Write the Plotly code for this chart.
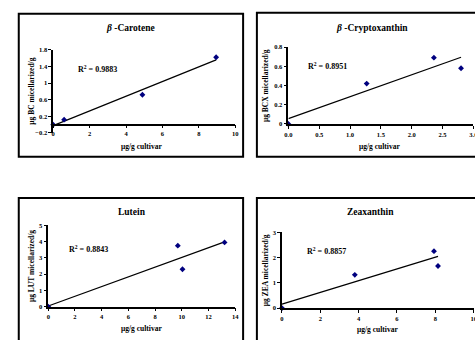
import numpy as np
import plotly.graph_objects as go

# the page shows a 475x340 window; the charts run past its right edge
W, H = 500, 340

# ---- data ----
bc_x = [0.0, 0.6, 4.9, 8.95]
bc_y = [0.0, 0.12, 0.72, 1.62]
bcx_x = [0.0, 1.27, 2.36, 2.8]
bcx_y = [0.0, 0.42, 0.69, 0.58]
lut_x = [0.0, 9.7, 10.05, 13.2]
lut_y = [0.0, 3.75, 2.3, 3.95]
zea_x = [0.0, 3.8, 7.93, 8.14]
zea_y = [0.0, 1.32, 2.26, 1.67]

titles = ["<i>β</i> -Carotene", "<i>β</i> -Cryptoxanthin", "Lutein", "Zeaxanthin"]
ytitles = ["μg BC micellarized/g", "μg BCX micellarized/g",
           "μg LUT micellarized/g", "μg ZEA micellarized/g"]
r2_labels = ["R<sup>2</sup> = 0.9883", "R<sup>2</sup> = 0.8951",
             "R<sup>2</sup> = 0.8843", "R<sup>2</sup> = 0.8857"]
xtitle = "μg/g cultivar"

FONT = "Liberation Serif"
NAVY = "#00007f"

def px(x):
    return x / W

def py(y):
    return 1 - y / H

def bfont(size):
    return dict(family=FONT, size=size, color="black", weight="bold")

panels = [
    dict(xs=bc_x, ys=bc_y, xr=[0, 10], xd=2, xfmt="", yr=[-0.2, 1.8], y0=-0.2, yd=0.4,
         plot=(50, 235, 46.7, 131.7), box=(15, 10, 243, 156),
         r2=(95, 66), title=(129, 24), ytitle=(28, 89), xtitle=(140, 145.5)),
    dict(xs=bcx_x, ys=bcx_y, xr=[0, 3], xd=0.5, xfmt=".1f", yr=[0, 0.8], y0=0, yd=0.2,
         plot=(289, 477, 44, 122.5), box=(257, 9, 491, 156),
         r2=(329, 63), title=(374, 24), ytitle=(266, 83), xtitle=(382, 145)),
    dict(xs=lut_x, ys=lut_y, xr=[0, 14], xd=2, xfmt="", yr=[0, 5], y0=0, yd=1,
         plot=(45, 235, 226, 309), box=(15, 198, 243, 360),
         r2=(86, 250), title=(130, 212), ytitle=(28, 268), xtitle=(140, 331)),
    dict(xs=zea_x, ys=zea_y, xr=[0, 10], xd=2, xfmt="", yr=[0, 3], y0=0, yd=1,
         plot=(282.5, 477.3, 233.3, 310.5), box=(257, 198, 491, 360),
         r2=(328, 252), title=(372, 212), ytitle=(266, 272), xtitle=(380, 332)),
]

fig = go.Figure()
layout = dict(width=W, height=H, margin=dict(l=0, r=0, t=0, b=0),
              paper_bgcolor="white", plot_bgcolor="white", showlegend=False,
              font=dict(family=FONT, color="black"))
shapes = []
annotations = []

for i, p in enumerate(panels):
    n = i + 1
    xa = "x" if n == 1 else f"x{n}"
    ya = "y" if n == 1 else f"y{n}"
    xkey = "xaxis" if n == 1 else f"xaxis{n}"
    ykey = "yaxis" if n == 1 else f"yaxis{n}"
    x0, x1, yt, yb = p["plot"]
    xs = np.array(p["xs"])
    ys = np.array(p["ys"])
    slope, icpt = np.polyfit(xs, ys, 1)
    lx = np.array([0.0, xs.max()])
    fig.add_trace(go.Scatter(x=lx, y=slope * lx + icpt, mode="lines",
                             line=dict(color="black", width=1.2),
                             xaxis=xa, yaxis=ya, hoverinfo="skip"))
    fig.add_trace(go.Scatter(x=xs, y=ys, mode="markers",
                             marker=dict(symbol="diamond", size=4.5, color=NAVY),
                             xaxis=xa, yaxis=ya, cliponaxis=False))
    ydom = [py(yb), py(yt)]
    xaxis = dict(domain=[px(x0), px(x1)], range=p["xr"], anchor=ya, showgrid=False,
                 zeroline=False, showline=True, linecolor="black", linewidth=1.5,
                 ticks="outside", ticklen=3, tickwidth=1, tickcolor="black",
                 dtick=p["xd"], tick0=0, tickformat=p["xfmt"],
                 ticklabeloverflow="allow",
                 tickfont=bfont(6.5), fixedrange=True)
    if p["yr"][0] < 0:
        frac = (0 - p["yr"][0]) / (p["yr"][1] - p["yr"][0])
        xaxis["anchor"] = "free"
        xaxis["position"] = ydom[0] + frac * (ydom[1] - ydom[0])
    layout[xkey] = xaxis
    layout[ykey] = dict(domain=ydom, range=p["yr"], anchor=xa, showgrid=False,
                        zeroline=False, showline=True, linecolor="black", linewidth=1.5,
                        ticks="outside", ticklen=3, tickwidth=1, tickcolor="black",
                        tick0=p["y0"], dtick=p["yd"],
                        tickfont=bfont(6.5), fixedrange=True)
    bx0, by0, bx1, by1 = p["box"]
    shapes.append(dict(type="rect", xref="paper", yref="paper",
                       x0=px(bx0), x1=px(bx1), y0=py(by1), y1=py(by0),
                       line=dict(color="black", width=2), layer="below"))
    annotations.append(dict(text=titles[i], x=px(p["title"][0]), y=py(p["title"][1]),
                            xref="paper", yref="paper", showarrow=False,
                            font=bfont(9.5), xanchor="center", yanchor="middle"))
    annotations.append(dict(text=r2_labels[i], x=px(p["r2"][0]), y=py(p["r2"][1]),
                            xref="paper", yref="paper", showarrow=False,
                            font=bfont(8), xanchor="center", yanchor="middle"))
    annotations.append(dict(text=ytitles[i], x=px(p["ytitle"][0]), y=py(p["ytitle"][1]),
                            xref="paper", yref="paper", showarrow=False, textangle=-90,
                            font=bfont(7.5), xanchor="center", yanchor="middle"))
    annotations.append(dict(text=xtitle, x=px(p["xtitle"][0]), y=py(p["xtitle"][1]),
                            xref="paper", yref="paper", showarrow=False,
                            font=bfont(7.5), xanchor="center", yanchor="middle"))

layout["shapes"] = shapes
layout["annotations"] = annotations
fig.update_layout(**layout)
fig.write_html("out.html", config={"displayModeBar": False},
               post_script="document.body.style.margin='0';document.body.style.overflow='hidden';")
